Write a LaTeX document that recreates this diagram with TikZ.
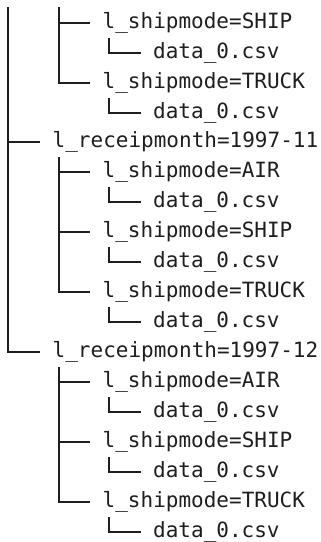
\documentclass[tikz,border=0pt]{standalone}
\usepackage{fontspec}
\newfontfamily\treefont{DejaVu Sans Mono}
\usetikzlibrary{calc}
\definecolor{ink}{RGB}{30,30,30}
% elbow connector from the column under a parent entry to a child entry
\newcommand\branchto[2]{\draw[branch] ($(#1.west)+(6.5,-15)$) |- (#2.west);}
\begin{document}
\begin{tikzpicture}[x=1pt,y=1pt,
  entry/.style={anchor=west, inner sep=0pt, text height=11.2pt, text depth=0pt,
    font=\treefont\fontsize{21}{25}\selectfont, text=ink},
  branch/.style={draw=ink, line width=1.8pt, shorten >=12.5pt},
]
\useasboundingbox (0,0) rectangle (321,-542);

% columns continuing from entries above the visible part
\coordinate (rootTop) at (8,-7);
\coordinate (groupTop) at (59,-7);

% entries, one per row
\node[entry] (s1)  at (102.5,-23)  {l\_shipmode=SHIP};
\node[entry] (f1)  at (153,-53)    {data\_0.csv};
\node[entry] (t1)  at (102.5,-83)  {l\_shipmode=TRUCK};
\node[entry] (f2)  at (153,-113)   {data\_0.csv};
\node[entry] (m11) at (52.5,-142)  {l\_receipmonth=1997-11};
\node[entry] (a2)  at (102.5,-172) {l\_shipmode=AIR};
\node[entry] (f3)  at (153,-202)   {data\_0.csv};
\node[entry] (s2)  at (102.5,-232) {l\_shipmode=SHIP};
\node[entry] (f4)  at (153,-262)   {data\_0.csv};
\node[entry] (t2)  at (102.5,-292) {l\_shipmode=TRUCK};
\node[entry] (f5)  at (153,-322)   {data\_0.csv};
\node[entry] (m12) at (52.5,-352)  {l\_receipmonth=1997-12};
\node[entry] (a3)  at (102.5,-382) {l\_shipmode=AIR};
\node[entry] (f6)  at (153,-412)   {data\_0.csv};
\node[entry] (s3)  at (102.5,-442) {l\_shipmode=SHIP};
\node[entry] (f7)  at (153,-472)   {data\_0.csv};
\node[entry] (t3)  at (102.5,-502) {l\_shipmode=TRUCK};
\node[entry] (f8)  at (153,-532)   {data\_0.csv};

% top-level column
\draw[branch] (rootTop) |- (m11.west);
\draw[branch] (rootTop) |- (m12.west);

% group continuing from above
\draw[branch] (groupTop) |- (s1.west);
\draw[branch] (groupTop) |- (t1.west);
\branchto{s1}{f1}
\branchto{t1}{f2}

% 1997-11
\branchto{m11}{a2}
\branchto{m11}{s2}
\branchto{m11}{t2}
\branchto{a2}{f3}
\branchto{s2}{f4}
\branchto{t2}{f5}

% 1997-12
\branchto{m12}{a3}
\branchto{m12}{s3}
\branchto{m12}{t3}
\branchto{a3}{f6}
\branchto{s3}{f7}
\branchto{t3}{f8}
\end{tikzpicture}
\end{document}
